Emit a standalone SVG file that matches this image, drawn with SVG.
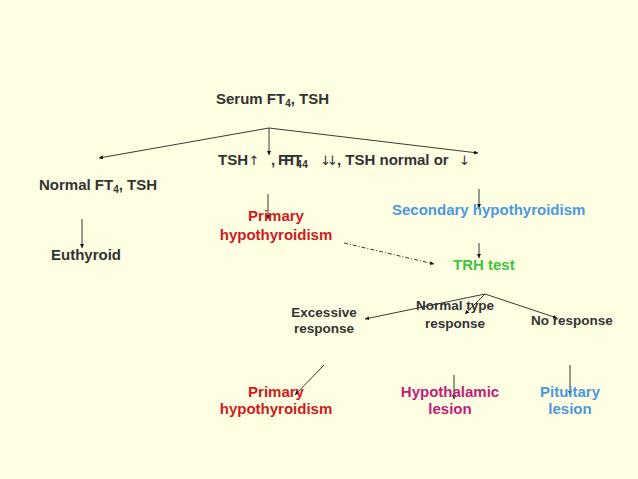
<svg xmlns="http://www.w3.org/2000/svg" width="638" height="479" viewBox="0 0 638 479">
<defs>
<marker id="ah" viewBox="0 0 6 6" refX="6" refY="3" markerWidth="4" markerHeight="4" orient="auto" markerUnits="userSpaceOnUse"><path d="M0,0 L6,3 L0,6 z" fill="#111"/></marker>
<style>
text{font-family:"Liberation Sans",Arial,sans-serif;font-weight:bold;font-size:15px;fill:#333}
.s{font-size:13.5px}
.sub{font-size:10px}
.red{fill:#cc1c1c}
.blue{fill:#4b98e0}
.green{fill:#3fc43f}
.mag{fill:#c0207a}
.c line{stroke:#222;stroke-width:0.9;fill:none;marker-end:url(#ah)}
.n{font-family:"DejaVu Sans",sans-serif;font-weight:normal;font-size:13px}
</style>
</defs>
<rect width="638" height="479" fill="#fefee3"/>
<g class="c" id="connectors">
<line x1="269" y1="128" x2="99" y2="158"/>
<line x1="269" y1="128" x2="478" y2="153"/>
<line x1="269" y1="128" x2="269" y2="155"/>
<line x1="82" y1="219" x2="82" y2="248"/>
<line x1="268" y1="194" x2="268" y2="219"/>
<line x1="479" y1="189" x2="479" y2="208"/>
<line x1="479" y1="243" x2="479" y2="258"/>
<line x1="344" y1="243" x2="434" y2="264" stroke-dasharray="4,2,1,2"/>
<line x1="485" y1="294" x2="365" y2="319"/>
<line x1="485" y1="294" x2="465" y2="314"/>
<line x1="485" y1="294" x2="557" y2="318"/>
<line x1="324" y1="365" x2="295" y2="395"/>
<line x1="454" y1="375" x2="454" y2="399"/>
<line x1="570" y1="365" x2="570" y2="395"/>
</g>
<g id="serum"><text x="216" y="104">Serum FT<tspan class="sub" dy="3">4</tspan><tspan dy="-3">, TSH</tspan></text></g>
<g id="criteria">
<text x="218" y="165">TSH<tspan class="n" x="248.5">↑</tspan><tspan x="271">, </tspan></text>
<text x="278" y="165">FT<tspan class="sub" dy="3">4</tspan></text>
<text x="284" y="165">FT<tspan class="sub" dy="3">4</tspan></text>
<text x="320" y="165"><tspan class="n" letter-spacing="-4">↓↓</tspan><tspan x="337">, TSH normal or </tspan><tspan class="n" x="459">↓</tspan></text>
</g>
<g id="normal"><text x="39" y="190">Normal FT<tspan class="sub" dy="3">4</tspan><tspan dy="-3">, TSH</tspan></text></g>
<g id="euthyroid"><text x="51" y="260">Euthyroid</text></g>
<g id="primary1"><text class="red" text-anchor="middle"><tspan x="276" y="221">Primary</tspan><tspan x="276" y="240">hypothyroidism</tspan></text></g>
<g id="secondary"><text class="blue" x="392" y="215">Secondary hypothyroidism</text></g>
<g id="trh"><text class="green" x="453" y="270">TRH test</text></g>
<g id="excessive"><text class="s" text-anchor="middle"><tspan x="324" y="317">Excessive</tspan><tspan x="324" y="333">response</tspan></text></g>
<g id="normaltype"><text class="s" text-anchor="middle"><tspan x="455" y="310">Normal type</tspan><tspan x="455" y="328">response</tspan></text></g>
<g id="noresponse"><text class="s" x="531" y="325">No response</text></g>
<g id="primary2"><text class="red" text-anchor="middle"><tspan x="276" y="397">Primary</tspan><tspan x="276" y="414">hypothyroidism</tspan></text></g>
<g id="hypothalamic"><text class="mag" text-anchor="middle"><tspan x="450" y="397">Hypothalamic</tspan><tspan x="450" y="414">lesion</tspan></text></g>
<g id="pituitary"><text class="blue" text-anchor="middle"><tspan x="570" y="397">Pituitary</tspan><tspan x="570" y="414">lesion</tspan></text></g>
</svg>
